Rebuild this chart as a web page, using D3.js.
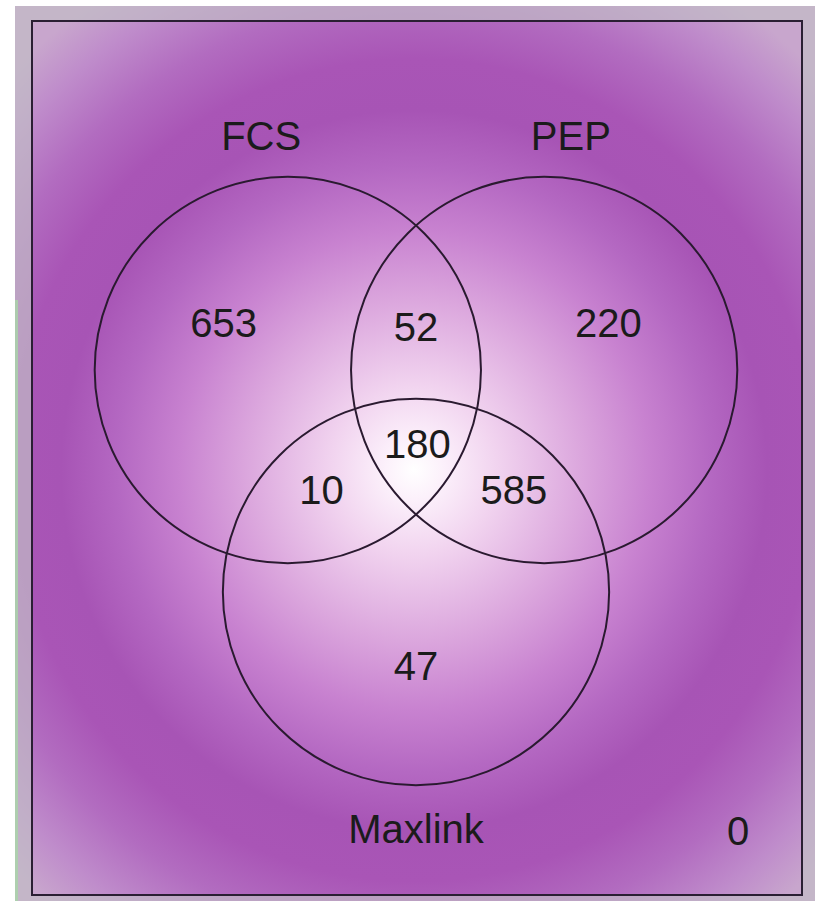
<!DOCTYPE html>
<html lang="en">
<head>
<meta charset="UTF-8">
<script src="https://d3js.org/d3.v7.min.js"></script>
<title>Venn</title>
<style>
  body { margin: 0; background: #ffffff; }
  text { font-family: "Liberation Sans", Arial, sans-serif; fill: #1b1b1b; }
</style>
</head>
<body>
<svg id="chart" width="815" height="901"></svg>
<script>
    // data
    const setNames = ["FCS", "PEP", "Maxlink"];
    const onlyCounts = [653, 220, 47];        // FCS only, PEP only, Maxlink only
    const pairNames = ["FCS & PEP", "FCS & Maxlink", "PEP & Maxlink"];
    const pairCounts = [52, 10, 585];
    const allCount = 180;
    const noneCount = 0;

    const svg = d3.select("#chart");
    const defs = svg.append("defs");

    // background gradient
    const grad = defs.append("radialGradient")
        .attr("id", "bg")
        .attr("gradientUnits", "userSpaceOnUse")
        .attr("cx", 0).attr("cy", 0).attr("r", 560)
        .attr("gradientTransform", "translate(414,470) scale(1,1.02)");
    const stops = [
        [0, "#ffffff"], [0.05, "#fcf1fb"], [0.15, "#f1d3ef"], [0.3, "#dba6dd"],
        [0.42, "#c882d0"], [0.53, "#b468c2"], [0.63, "#a754b5"], [0.72, "#a955b6"],
        [0.82, "#b26cc0"], [0.92, "#bf8ccb"], [1, "#c8a6cd"]
    ];
    stops.forEach(s => grad.append("stop").attr("offset", s[0]).attr("stop-color", s[1]));

    // outer frame
    svg.append("rect").attr("x", 15).attr("y", 6).attr("width", 800).attr("height", 895)
        .attr("fill", "url(#bg)");
    svg.append("path")
        .attr("d", "M15,6H815V901H15Z M32,21V895H802V21Z")
        .attr("fill-rule", "evenodd")
        .attr("fill", "#c2bec6").attr("opacity", 0.7);
    svg.append("rect").attr("x", 15).attr("y", 300).attr("width", 3).attr("height", 601)
        .attr("fill", "#a9d6a9").attr("opacity", 0.8);
    svg.append("rect").attr("x", 32).attr("y", 21).attr("width", 770).attr("height", 874)
        .attr("fill", "none").attr("stroke", "#2a1f33").attr("stroke-width", 2);

    // layout in unit space: circle centres sit 1 unit from the middle
    const x = d3.scaleLinear().domain([0, 1]).range([416, 564]);
    const y = d3.scaleLinear().domain([0, 1]).range([444, 592]);
    const unit = x(1) - x(0);
    const rad = 1.305;
    const angles = [-150, -30, 90].map(a => a * Math.PI / 180);
    const centres = angles.map(a => [Math.cos(a), Math.sin(a)]);

    svg.append("g").selectAll("circle")
        .data(centres)
        .join("circle")
        .attr("cx", d => x(d[0]))
        .attr("cy", d => y(d[1]))
        .attr("r", rad * unit)
        .attr("fill", "none")
        .attr("stroke", "#2a1a30")
        .attr("stroke-width", 2);

    const fs = 40;
    const label = (px, py, txt) => svg.append("text")
        .attr("x", px).attr("y", py)
        .attr("text-anchor", "middle")
        .attr("dominant-baseline", "central")
        .attr("font-size", fs)
        .text(txt);

    // set names
    const nameOffsets = [[-0.18, -1.58], [0.18, -1.58], [0.0, 1.6]];
    setNames.forEach((n, i) => {
        label(x(centres[i][0] + nameOffsets[i][0]), y(centres[i][1] + nameOffsets[i][1]), n);
    });

    // single regions
    const onlyAngles = [-147, -33, 90].map(a => a * Math.PI / 180);
    onlyCounts.forEach((v, i) => {
        label(x(1.55 * Math.cos(onlyAngles[i])), y(1.5 * Math.sin(onlyAngles[i])), v);
    });

    // pair regions (opposite the missing set)
    const pairAngles = [-90, 154, 25].map(a => a * Math.PI / 180);
    const pairDist = [0.79, 0.71, 0.73];
    pairCounts.forEach((v, i) => {
        label(x(pairDist[i] * Math.cos(pairAngles[i])), y(pairDist[i] * Math.sin(pairAngles[i])), v);
    });

    label(x(0.01), y(0.0), allCount);
    label(738, 831, noneCount);
</script>
</body>
</html>
